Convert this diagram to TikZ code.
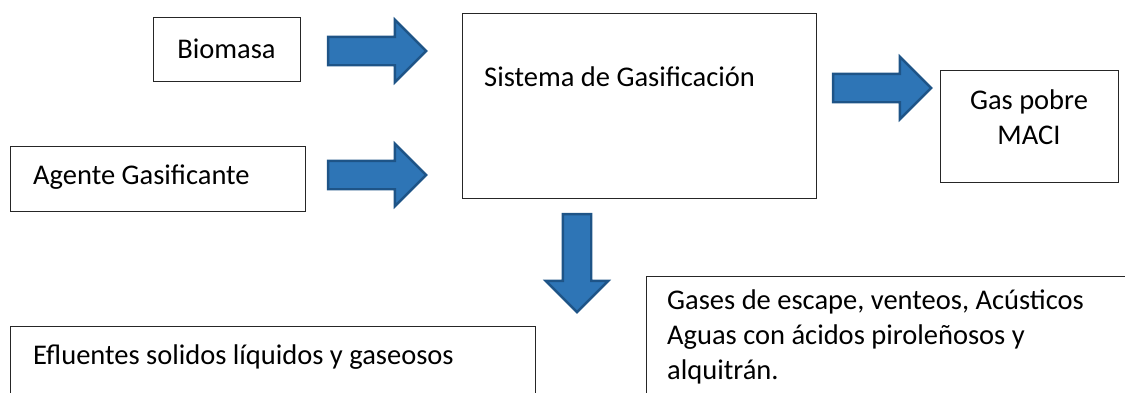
\documentclass[tikz,border=0pt]{standalone}
\usepackage{fontspec}
\setmainfont{Carlito}
\usetikzlibrary{shapes.arrows}

\begin{document}
\begin{tikzpicture}[x=1pt,y=-1pt,box/.style={shape=rectangle,draw=black!85,line width=0.8pt,inner sep=0pt},txt/.style={font=\fontsize{28.5}{35}\selectfont,inner sep=0pt,align=left},flecha/.style={single arrow,draw={rgb,255:red,30;green,84;blue,135},fill={rgb,255:red,46;green,117;blue,182},line width=2.4pt,minimum height=98pt,inner sep=13pt,single arrow head extend=17pt}]
\def\ax{370};
\clip (0,0) rectangle (1125,392);

\node[box,minimum width=147pt,minimum height=64pt] (bio) at (226.5,49) {};
\node[txt] (biot) at (bio.center) {Biomasa};

\node[box,minimum width=295pt,minimum height=65pt] (agente) at (157.5,178.5) {};
\node[txt,anchor=west] (agentet) at (33,177) {Agente Gasificante};

\node[box,minimum width=354pt,minimum height=185pt] (sist) at (639,105.5) {};
\node[txt,anchor=west] (sistt) at (484,77) {Sistema de Gasificación};

\node[box,minimum width=178pt,minimum height=112pt] (gas) at (1029,126) {};
\node[txt,align=center] (gast) at (1029,117) {Gas pobre\\MACI};

\node[box,minimum width=525pt,minimum height=120pt] (eflu) at (272.5,386) {};
\node[txt,anchor=west] (eflut) at (33,357) {Efluentes solidos líquidos y gaseosos};

\node[box,minimum width=500pt,minimum height=160pt] (esc) at (896,356) {};
\node[txt,anchor=north west] (esct) at (667,290) {Gases de escape, venteos, Acústicos\\Aguas con ácidos piroleñosos y\\alquitrán.};

% flechas
\node[flecha] (f1) at (\ax,51) {};
\node[flecha] (f2) at (\ax,175) {};
\node[flecha] (f3) at (875,88) {};
\node[flecha,shape border rotate=270] (f4) at (577,256) {};
\end{tikzpicture}
\end{document}
